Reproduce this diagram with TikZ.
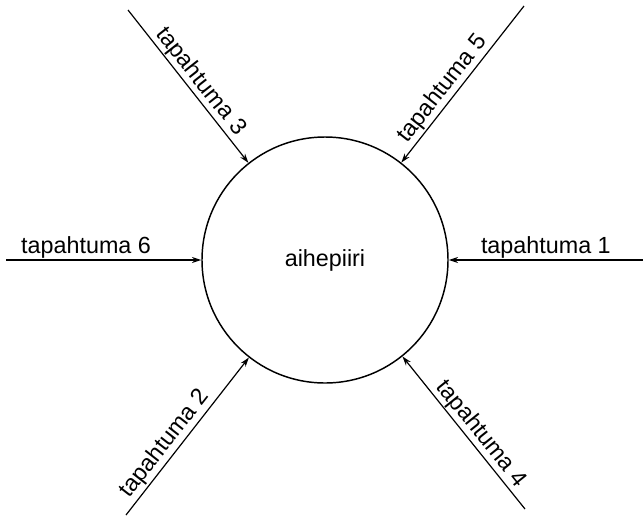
\documentclass[tikz,border=0pt]{standalone}
\usepackage{fontspec}
\setmainfont{Liberation Sans}
\usetikzlibrary{arrows.meta}
\begin{document}
\begin{tikzpicture}[x=0.75pt,y=-0.75pt,
  conn/.style={line width=0.9pt,-{Stealth[length=7pt,width=4.5pt]}},
  lbl/.style={font=\fontsize{17.5}{20}\selectfont,sloped,above,inner sep=1pt},
  topic/.style={circle,draw,line width=1.1pt,minimum size=184.5pt,inner sep=0pt,font=\fontsize{17.5}{20}\selectfont}]
\useasboundingbox (0,0) rectangle (643,515);
\node[topic] (c) at (325,260) {aihepiiri};
\coordinate (e1) at (643,260);
\coordinate (e6) at (6,260);
\coordinate (e3) at (128,10);
\coordinate (e5) at (524,6);
\coordinate (e2) at (126,515);
\coordinate (e4) at (525,509);
\draw[conn] (e1) -- node[lbl,pos=0.5] {tapahtuma 1} (c);
\draw[conn] (e6) -- node[lbl,pos=0.41] {tapahtuma 6} (c);
\draw[conn] (e3) -- node[lbl,pos=0.52] {tapahtuma 3} (c);
\draw[conn] (e5) -- node[lbl,pos=0.58] {tapahtuma 5} (c);
\draw[conn] (e2) -- node[lbl,pos=0.4] {tapahtuma 2} (c);
\draw[conn] (e4) -- node[lbl,pos=0.44] {tapahtuma 4} (c);
\end{tikzpicture}
\end{document}
